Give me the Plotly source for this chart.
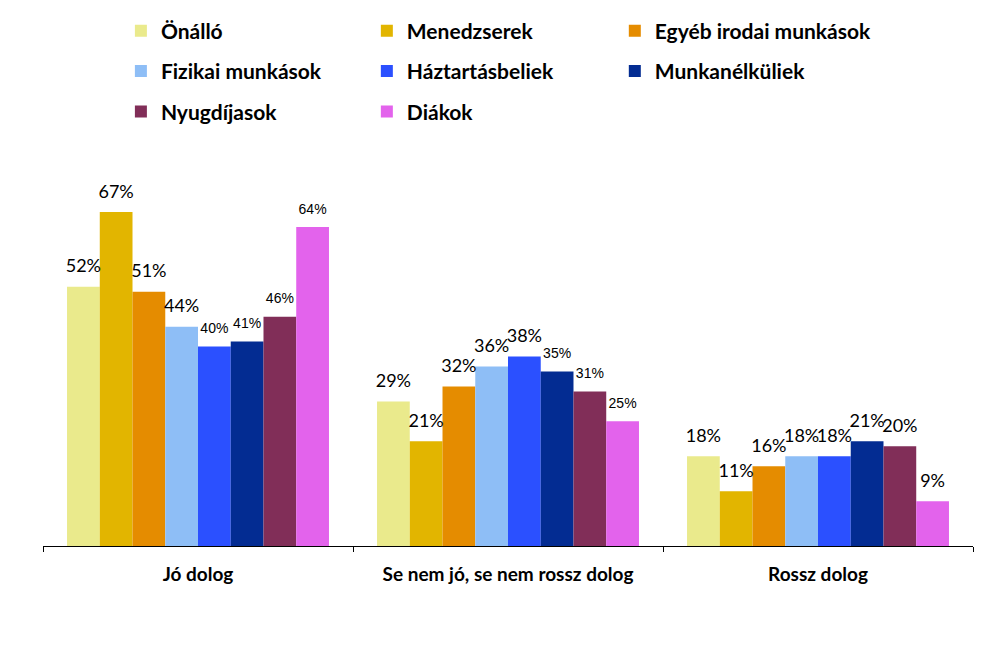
import plotly.graph_objects as go

categories = ["Jó dolog", "Se nem jó, se nem rossz dolog", "Rossz dolog"]
series_names = ["Önálló", "Menedzserek", "Egyéb irodai munkások",
                "Fizikai munkások", "Háztartásbeliek", "Munkanélküliek",
                "Nyugdíjasok", "Diákok"]
onallo = [52, 29, 18]
menedzserek = [67, 21, 11]
egyeb_irodai = [51, 32, 16]
fizikai = [44, 36, 18]
haztartasbeliek = [40, 38, 18]
munkanelkuliek = [41, 35, 21]
nyugdijasok = [46, 31, 20]
diakok = [64, 25, 9]
values = [onallo, menedzserek, egyeb_irodai, fizikai, haztartasbeliek,
          munkanelkuliek, nyugdijasok, diakok]

colors = ["#EAEA8C", "#E2B500", "#E58C00", "#8EBEF6", "#2B50FF",
          "#032C92", "#812E58", "#E363EC"]
# label font: True = large Calibri-like, False = small Arial-like
label_big = [
    [True, True, True],
    [True, True, True],
    [True, True, True],
    [True, True, True],
    [False, True, True],
    [False, False, True],
    [False, False, True],
    [False, False, True],
]
# legend laid out in three columns (one legend per column)
legend_of = ["legend", "legend2", "legend3", "legend", "legend2", "legend3",
             "legend", "legend2"]

BIG_FONT = "Lato, 'Open Sans', sans-serif"
SMALL_FONT = "'Liberation Sans', Arial, sans-serif"

fig = go.Figure()
for i, (name, vals) in enumerate(zip(series_names, values)):
    fig.add_trace(go.Bar(
        x=categories, y=vals, name=name, marker_color=colors[i],
        marker_line_width=0, offsetgroup=str(i), legend=legend_of[i],
        legendgroup=name,
        hovertemplate="%{x}: %{y}%<extra>" + name + "</extra>",
    ))
for i, (name, vals) in enumerate(zip(series_names, values)):
    fig.add_trace(go.Scatter(
        x=categories, y=vals, mode="markers+text", offsetgroup=str(i),
        text=[f"{v}%" for v in vals], textposition="top center",
        marker=dict(size=14, opacity=0), cliponaxis=False,
        textfont=dict(
            family=[BIG_FONT if b else SMALL_FONT for b in label_big[i]],
            size=[18 if b else 14 for b in label_big[i]],
            color="black"),
        showlegend=False, hoverinfo="skip",
    ))

legend_common = dict(orientation="v", xanchor="left", yanchor="top",
                      xref="container", yref="container",
                      traceorder="grouped", tracegroupgap=10,
                      font=dict(family=BIG_FONT, size=21, color="black",
                                weight="bold"),
                      bgcolor="rgba(0,0,0,0)", itemclick=False,
                      itemdoubleclick=False)

fig.update_layout(
    width=1008, height=661,
    margin=dict(l=35, r=43, t=189, b=123, autoexpand=False),
    paper_bgcolor="white", plot_bgcolor="white",
    barmode="group", bargap=0.155, bargroupgap=0,
    scattermode="group",
    showlegend=True,
    legend=dict(x=0.112, y=0.996, **legend_common),
    legend2=dict(x=0.356, y=0.996, **legend_common),
    legend3=dict(x=0.602, y=0.996, **legend_common),
    xaxis=dict(
        showline=True, linecolor="black", linewidth=1,
        ticks="outside", tickson="boundaries", ticklen=5,
        tickcolor="black", showgrid=False, ticklabelstandoff=11,
        tickfont=dict(family=BIG_FONT, size=19, color="black",
                      weight="bold"),
    ),
    yaxis=dict(range=[0, 70], visible=False, showgrid=False),
)

fig.write_html("out.html")
